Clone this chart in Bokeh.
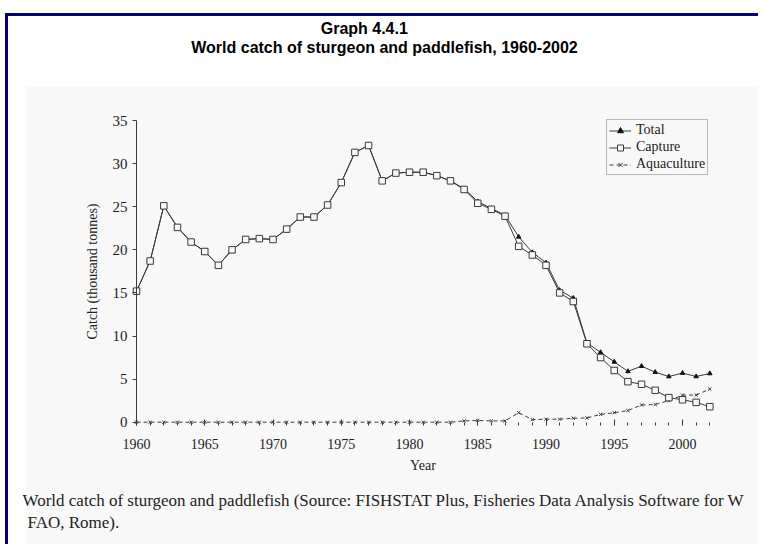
from bokeh.plotting import figure
from bokeh.models import Range1d, Label, BoxAnnotation, Legend, LegendItem, FixedTicker
from bokeh.embed import file_html
from bokeh.resources import INLINE

# ---------------- data ----------------
years = list(range(1960, 2003))
capture = [15.2, 18.7, 25.1, 22.6, 20.9, 19.8, 18.2, 20.0, 21.2, 21.3,
           21.2, 22.4, 23.8, 23.8, 25.2, 27.8, 31.3, 32.1, 28.0, 28.9,
           29.0, 29.0, 28.6, 28.0, 27.0, 25.4, 24.7, 23.9, 20.4, 19.4,
           18.2, 15.0, 14.0, 9.1, 7.5, 6.0, 4.7, 4.4, 3.7, 2.85,
           2.6, 2.3, 1.8]
aquaculture = [0, 0, 0, 0, 0, 0, 0, 0, 0, 0,
               0, 0, 0, 0, 0, 0, 0, 0, 0, 0,
               0, 0, 0, 0, 0.15, 0.2, 0.15, 0.15, 1.1, 0.3,
               0.35, 0.35, 0.45, 0.5, 0.9, 1.1, 1.35, 2.0, 2.05, 2.5,
               3.15, 3.15, 3.85]
total = [15.2, 18.7, 25.1, 22.6, 20.9, 19.8, 18.2, 20.0, 21.2, 21.3,
         21.2, 22.4, 23.8, 23.8, 25.2, 27.8, 31.3, 32.1, 28.0, 28.9,
         29.0, 29.0, 28.6, 28.0, 27.1, 25.6, 24.8, 24.0, 21.5, 19.7,
         18.5, 15.3, 14.4, 9.2, 8.1, 7.0, 5.9, 6.5, 5.8, 5.3,
         5.7, 5.3, 5.65]
x_ticks = [1960, 1965, 1970, 1975, 1980, 1985, 1990, 1995, 2000]
y_ticks = [0, 5, 10, 15, 20, 25, 30, 35]

title1 = "Graph  4.4.1"
title2 = "World catch of sturgeon and paddlefish, 1960-2002"
caption1 = ("World catch of sturgeon and paddlefish (Source: FISHSTAT Plus, "
            "Fisheries Data Analysis Software for W")
caption2 = "FAO, Rome)."

# ---------------- layout ----------------
W, H = 758, 544
# pixel anchors of the axes on the canvas
X_A, X_A_PX = 1960, 136.0
X_B, X_B_PX = 2002, 709.3
Y_A, Y_A_PX = 0, 421.7
Y_B, Y_B_PX = 35, 120.0
kx = (X_B - X_A) / (X_B_PX - X_A_PX)
ky = (Y_B - Y_A) / (Y_A_PX - Y_B_PX)

def dx(px):
    return X_A + (px - X_A_PX) * kx

def dy(py):
    return Y_A + (Y_A_PX - py) * ky

BG = "#f8f8f8"
INK = "#3a3a3a"
SERIF = "Liberation Serif"

p = figure(width=W, height=H, output_backend="svg", toolbar_location=None,
           x_range=Range1d(dx(0), dx(W)), y_range=Range1d(dy(H), dy(0)),
           min_border_left=0, min_border_right=0,
           min_border_top=0, min_border_bottom=0)
p.border_fill_color = "white"
p.background_fill_color = "white"
p.outline_line_color = None
p.grid.visible = False

def box(l, r, t, b, color, level):
    p.add_layout(BoxAnnotation(left=dx(l), right=dx(r), top=dy(t), bottom=dy(b),
                               fill_color=color, fill_alpha=1, line_alpha=0, level=level))

# grey picture area and navy frame
box(26, 762, 86, 548, BG, "underlay")
box(4.5, 767, 12.5, 15.5, "#000080", "overlay")
box(4.5, 7.5, 12.5, 553, "#000080", "overlay")

# axes
xa = p.xaxis[0]
xa.fixed_location = 0
xa.bounds = (1960, 2002)
xa.ticker = FixedTicker(ticks=x_ticks, minor_ticks=years)
xa.axis_line_alpha = 0
xa.major_tick_in = 3
xa.major_tick_out = 3
xa.minor_tick_in = 0
xa.minor_tick_out = 3
xa.major_tick_line_color = INK
xa.minor_tick_line_color = INK
xa.major_label_text_font = SERIF
xa.major_label_text_font_size = "14px"
xa.major_label_text_color = "#222"
xa.major_label_standoff = 14
xa.axis_label = "Year"
xa.axis_label_text_font = SERIF
xa.axis_label_text_font_size = "14px"
xa.axis_label_text_font_style = "normal"
xa.axis_label_text_color = "#222"
xa.axis_label_standoff = 5

ya = p.yaxis[0]
ya.fixed_location = 1960
ya.bounds = (0, 35)
ya.ticker = FixedTicker(ticks=y_ticks)
ya.axis_line_color = INK
ya.major_tick_in = 0
ya.major_tick_out = 4
ya.minor_tick_line_color = None
ya.major_tick_line_color = INK
ya.major_label_text_font = SERIF
ya.major_label_text_font_size = "15px"
ya.major_label_text_color = "#222"
ya.major_label_standoff = 5
ya.axis_label = "Catch (thousand tonnes)"
ya.axis_label_text_font = SERIF
ya.axis_label_text_font_size = "14px"
ya.axis_label_text_font_style = "normal"
ya.axis_label_text_color = "#222"
ya.axis_label_standoff = 10

# series
la = p.line(years, aquaculture, line_color=INK, line_width=1, line_dash="4 3")
ma = p.scatter(years, aquaculture, marker="x", size=4.5, line_color=INK, line_width=1)
lt = p.line(years, total, line_color=INK, line_width=1)
mt = p.scatter(years, total, marker="triangle", size=4.5, fill_color="#111", line_color="#111")
lc = p.line(years, capture, line_color=INK, line_width=1)
mc = p.scatter(years, capture, marker="square", size=6.5, fill_color=BG, line_color=INK, line_width=1)

legend = Legend(items=[LegendItem(label="Total", renderers=[lt, mt]),
                       LegendItem(label="Capture", renderers=[lc, mc]),
                       LegendItem(label="Aquaculture", renderers=[la, ma])],
                location=(606, H - 175))
legend.label_text_font = SERIF
legend.label_text_font_size = "14px"
legend.label_text_color = "#222"
legend.label_height = 15
legend.glyph_height = 15
legend.glyph_width = 22
legend.label_standoff = 5
legend.spacing = 1
legend.padding = 2
legend.margin = 0
legend.border_line_color = "#777"
legend.border_line_width = 1
legend.background_fill_color = BG
legend.background_fill_alpha = 1
p.add_layout(legend)

# titles and caption
for txt, px, py in [(title1, 366, 28), (title2, 384, 47)]:
    p.add_layout(Label(x=dx(px), y=dy(py), text=txt, text_align="center",
                       text_baseline="middle", text_font="Liberation Sans",
                       text_font_style="bold", text_font_size="16px", text_color="black"))
for txt, px, py in [(caption1, 22, 500), (caption2, 27, 522)]:
    p.add_layout(Label(x=dx(px), y=dy(py), text=txt, text_align="left",
                       text_baseline="middle", text_font=SERIF,
                       text_font_size="17px", text_color="#222"))

open("out.html", "w").write(file_html(p, INLINE))
